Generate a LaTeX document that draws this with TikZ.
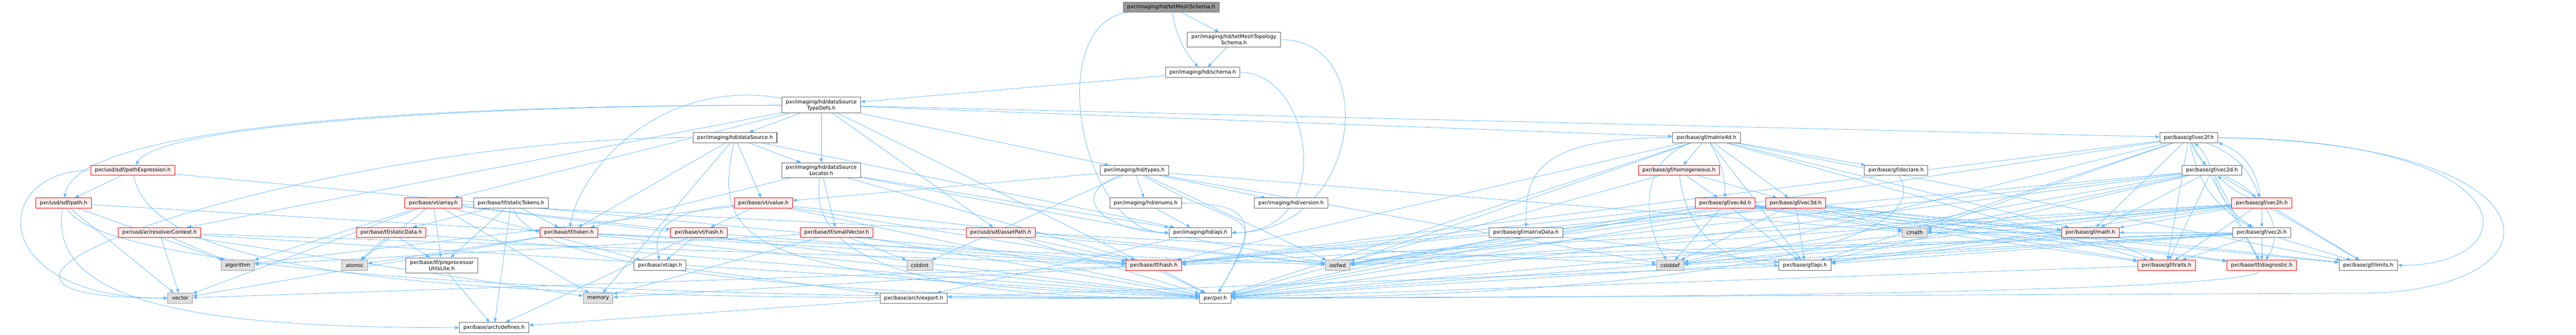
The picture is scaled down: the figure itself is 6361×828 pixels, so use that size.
\documentclass[tikz,border=0pt]{standalone}
\usepackage{fontspec}
\setmainfont{DejaVu Sans}
\usetikzlibrary{arrows.meta}
\definecolor{edgeblue}{HTML}{63B8FF}
\definecolor{boxline}{HTML}{666666}
\definecolor{sysline}{HTML}{999999}
\definecolor{sysfill}{HTML}{E0E0E0}
\definecolor{rootfill}{HTML}{999999}
\definecolor{redfill}{HTML}{FFF0F0}
\pgfdeclarelayer{bg}
\pgfsetlayers{bg,main}
\begin{document}
\begin{tikzpicture}[x=1pt,y=1pt]
\tikzstyle{hdr}=[draw=boxline, fill=white, line width=1.3pt, inner xsep=10pt, inner ysep=6pt, minimum height=25pt, align=center, font={\fontsize{12.8}{15}\selectfont}]
\tikzstyle{hdrred}=[hdr, draw=red, fill=redfill]
\tikzstyle{hdrsys}=[hdr, draw=sysline, fill=sysfill]
\tikzstyle{hdrroot}=[hdr, fill=rootfill]
\tikzstyle{dep}=[edgeblue, line width=1pt, -{Triangle[length=10pt,width=8pt]}]
\useasboundingbox (0,0) rectangle (6361,-828);
\draw (2892,-18) node [hdrroot] (tms) {pxr/imaging/hd/tetMeshSchema.h};
\draw (3047,-98) node [hdr] (tmts) {pxr/imaging/hd/tetMeshTopology\\Schema.h};
\draw (2970,-179) node [hdr] (schema) {pxr/imaging/hd/schema.h};
\draw (2028,-260) node [hdr] (dstd) {pxr/imaging/hd/dataSource\\TypeDefs.h};
\draw (1815,-340) node [hdr] (ds) {pxr/imaging/hd/dataSource.h};
\draw (4214,-340) node [hdr] (mat4d) {pxr/base/gf/matrix4d.h};
\draw (5405,-340) node [hdr] (vec2f) {pxr/base/gf/vec2f.h};
\draw (328,-421) node [hdrred] (pexpr) {pxr/usd/sdf/pathExpression.h};
\draw (2028,-421) node [hdr] (dsl) {pxr/imaging/hd/dataSource\\Locator.h};
\draw (2801,-421) node [hdr] (hdtypes) {pxr/imaging/hd/types.h};
\draw (4146,-421) node [hdrred] (homog) {pxr/base/gf/homogeneous.h};
\draw (4682,-421) node [hdr] (declare) {pxr/base/gf/declare.h};
\draw (5462,-421) node [hdr] (vec2d) {pxr/base/gf/vec2d.h};
\draw (157,-502) node [hdrred] (sdfpath) {pxr/usd/sdf/path.h};
\draw (1070,-502) node [hdrred] (array) {pxr/base/vt/array.h};
\draw (1262,-502) node [hdr] (stok) {pxr/base/tf/staticTokens.h};
\draw (1885,-502) node [hdrred] (value) {pxr/base/vt/value.h};
\draw (2829,-502) node [hdr] (enums) {pxr/imaging/hd/enums.h};
\draw (3188,-502) node [hdr] (version) {pxr/imaging/hd/version.h};
\draw (4260,-502) node [hdrred] (vec4d) {pxr/base/gf/vec4d.h};
\draw (4434,-502) node [hdrred] (vec3d) {pxr/base/gf/vec3d.h};
\draw (5585,-502) node [hdrred] (vec2h) {pxr/base/gf/vec2h.h};
\draw (394,-575) node [hdrred] (resctx) {pxr/usd/ar/resolverContext.h};
\draw (966,-575) node [hdrred] (sdata) {pxr/base/tf/staticData.h};
\draw (1405,-575) node [hdrred] (token) {pxr/base/tf/token.h};
\draw (1726,-575) node [hdrred] (vthash) {pxr/base/vt/hash.h};
\draw (2066,-575) node [hdrred] (svec) {pxr/base/tf/smallVector.h};
\draw (2471,-575) node [hdrred] (asset) {pxr/usd/sdf/assetPath.h};
\draw (2964,-575) node [hdr] (hdapi) {pxr/imaging/hd/api.h};
\draw (3768,-575) node [hdr] (mdata) {pxr/base/gf/matrixData.h};
\draw (4728,-575) node [hdrsys] (cmath) {cmath};
\draw (5162,-575) node [hdrred] (gfmath) {pxr/base/gf/math.h};
\draw (5585,-575) node [hdr] (vec2i) {pxr/base/gf/vec2i.h};
\draw (587,-656) node [hdrsys] (algorithm) {algorithm};
\draw (876,-656) node [hdrsys] (atomic) {atomic};
\draw (1091,-656) node [hdr] (prepr) {pxr/base/tf/preprocessor\\UtilsLite.h};
\draw (1630,-656) node [hdr] (vtapi) {pxr/base/vt/api.h};
\draw (2271,-656) node [hdrsys] (cstdint) {cstdint};
\draw (2849,-656) node [hdrred] (tfhash) {pxr/base/tf/hash.h};
\draw (3303,-656) node [hdrsys] (iosfwd) {iosfwd};
\draw (4124,-656) node [hdrsys] (cstddef) {cstddef};
\draw (4457,-656) node [hdr] (gfapi) {pxr/base/gf/api.h};
\draw (5350,-656) node [hdrred] (traits) {pxr/base/gf/traits.h};
\draw (5585,-656) node [hdrred] (diag) {pxr/base/tf/diagnostic.h};
\draw (5848,-656) node [hdr] (limits) {pxr/base/gf/limits.h};
\draw (445,-737) node [hdrsys] (vector) {vector};
\draw (1477,-737) node [hdrsys] (memory) {memory};
\draw (2256,-737) node [hdr] (export) {pxr/base/arch/export.h};
\draw (3001,-737) node [hdr] (pxr) {pxr/pxr.h};
\draw (1220,-810) node [hdr] (defines) {pxr/base/arch/defines.h};
\coordinate (rloop) at (5800,-725);
\begin{pgfonlayer}{bg}
\draw [dep] (tms) -- (tmts);
\draw [dep] (tms) to [bend right=15] (schema);
\draw [dep] (tms) .. controls (2575,-57) and (2666,-575) .. (hdapi);
\draw [dep] (tmts) -- (schema);
\draw [dep] (tmts) .. controls (3414,-98) and (3362,-575) .. (hdapi);
\draw [dep] (schema) -- (dstd);
\draw [dep] (schema) .. controls (3243,-179) and (3302,-575) .. (hdapi);
\draw [dep] (dstd) -- (ds);
\draw [dep] (dstd) -- (dsl);
\draw [dep] (dstd) .. controls (1230,-260) and (395,-304) .. (pexpr);
\draw [dep] (dstd) .. controls (1030,-260) and (190,-312) .. (sdfpath);
\draw [dep] (dstd) -- (resctx);
\draw [dep] (dstd) -- (array);
\draw [dep] (dstd) .. controls (1635,-191) and (1433,-414) .. (token);
\draw [dep] (dstd) -- (asset);
\draw [dep] (dstd) -- (hdtypes);
\draw [dep] (dstd) -- (mat4d);
\draw [dep] (dstd) -- (vec2f);
\draw [dep] (dstd) -- (pxr);
\draw [dep] (ds) -- (dsl);
\draw [dep] (ds) -- (value);
\draw [dep] (ds) -- (token);
\draw [dep] (ds) -- (hdapi);
\draw [dep] (ds) -- (memory);
\draw [dep] (ds) .. controls (811,-340) and (-386,-737) .. (vector);
\draw [dep] (ds) .. controls (1760,-600) and (1820,-690) .. (pxr);
\draw [dep] (dsl) -- (token);
\draw [dep] (dsl) -- (svec);
\draw [dep] (dsl) -- (hdapi);
\draw [dep] (dsl) -- (tfhash);
\draw [dep] (dsl) -- (iosfwd);
\draw [dep] (dsl) .. controls (1980,-697) and (2462,-737) .. (pxr);
\draw [dep] (pexpr) -- (sdfpath);
\draw [dep] (pexpr) .. controls (-27,-421) and (-36,-737) .. (vector);
\draw [dep] (pexpr) .. controls (386,-749) and (1562,-737) .. (pxr);
\draw [dep] (pexpr) -- (tfhash);
\draw [dep] (sdfpath) -- (algorithm);
\draw [dep] (sdfpath) -- (vector);
\draw [dep] (sdfpath) -- (token);
\draw [dep] (sdfpath) .. controls (112,-761) and (533,-810) .. (defines);
\draw [dep] (sdfpath) .. controls (254,-671) and (1362,-737) .. (pxr);
\draw [dep] (resctx) -- (algorithm);
\draw [dep] (resctx) -- (vector);
\draw [dep] (resctx) -- (memory);
\draw [dep] (resctx) -- (tfhash);
\draw [dep] (resctx) -- (pxr);
\draw [dep] (array) -- (atomic);
\draw [dep] (array) -- (prepr);
\draw [dep] (array) -- (vtapi);
\draw [dep] (array) -- (algorithm);
\draw [dep] (array) -- (memory);
\draw [dep] (array) -- (vector);
\draw [dep] (array) -- (vthash);
\draw [dep] (array) -- (cstddef);
\draw [dep] (array) -- (pxr);
\draw [dep] (stok) -- (sdata);
\draw [dep] (stok) -- (token);
\draw [dep] (stok) -- (prepr);
\draw [dep] (stok) -- (defines);
\draw [dep] (stok) .. controls (1342,-722) and (2562,-737) .. (pxr);
\draw [dep] (sdata) -- (atomic);
\draw [dep] (sdata) -- (prepr);
\draw [dep] (sdata) -- (pxr);
\draw [dep] (token) -- (atomic);
\draw [dep] (token) -- (vector);
\draw [dep] (token) -- (tfhash);
\draw [dep] (token) -- (iosfwd);
\draw [dep] (token) -- (pxr);
\draw [dep] (value) -- (vthash);
\draw [dep] (value) .. controls (1600,-525) and (1620,-600) .. (vtapi);
\draw [dep] (value) -- (algorithm);
\draw [dep] (value) -- (tfhash);
\draw [dep] (value) -- (iosfwd);
\draw [dep] (value) -- (pxr);
\draw [dep] (vthash) -- (vtapi);
\draw [dep] (vthash) -- (tfhash);
\draw [dep] (vthash) -- (defines);
\draw [dep] (svec) -- (cstdint);
\draw [dep] (svec) -- (memory);
\draw [dep] (svec) -- (algorithm);
\draw [dep] (svec) -- (pxr);
\draw [dep] (asset) -- (tfhash);
\draw [dep] (asset) -- (iosfwd);
\draw [dep] (asset) -- (pxr);
\draw [dep] (hdtypes) .. controls (2626,-485) and (2736,-575) .. (hdapi);
\draw [dep] (hdtypes) -- (enums);
\draw [dep] (hdtypes) -- (version);
\draw [dep] (hdtypes) .. controls (3076,-584) and (3138,-499) .. (pxr);
\draw [dep] (hdtypes) -- (value);
\draw [dep] (hdtypes) -- (cstdint);
\draw [dep] (hdtypes) -- (cmath);
\draw [dep] (hdtypes) -- (cstddef);
\draw [dep] (hdtypes) -- (iosfwd);
\draw [dep] (enums) -- (hdapi);
\draw [dep] (enums) .. controls (3119,-502) and (3098,-568) .. (pxr);
\draw [dep] (hdapi) -- (export);
\draw [dep] (vtapi) -- (export);
\draw [dep] (gfapi) -- (export);
\draw [dep] (export) -- (defines);
\draw [dep] (prepr) -- (defines);
\draw [dep] (tfhash) -- (pxr);
\draw [dep] (tfhash) -- (memory);
\draw [dep] (tfhash) -- (vector);
\draw [dep] (mdata) -- (gfapi);
\draw [dep] (mdata) -- (pxr);
\draw [dep] (mat4d) -- (homog);
\draw [dep] (mat4d) to [bend left=15] (vec4d);
\draw [dep] (mat4d) -- (vec3d);
\draw [dep] (mat4d) .. controls (3779,-340) and (3768,-442) .. (mdata);
\draw [dep] (mat4d) -- (declare);
\draw [dep] (mat4d) -- (gfapi);
\draw [dep] (mat4d) -- (limits);
\draw [dep] (mat4d) -- (gfmath);
\draw [dep] (mat4d) -- (traits);
\draw [dep] (mat4d) -- (tfhash);
\draw [dep] (mat4d) -- (iosfwd);
\draw [dep] (mat4d) .. controls (4040,-400) and (4060,-560) .. (cstddef);
\draw [dep] (mat4d) -- (pxr);
\draw [dep] (homog) -- (vec4d);
\draw [dep] (homog) -- (vec3d);
\draw [dep] (homog) .. controls (4163,-583) and (4272,-656) .. (gfapi);
\draw [dep] (homog) -- (pxr);
\draw [dep] (vec4d) -- (cstddef);
\draw [dep] (vec4d) -- (gfapi);
\draw [dep] (vec4d) -- (cmath);
\draw [dep] (vec4d) -- (gfmath);
\draw [dep] (vec4d) -- (traits);
\draw [dep] (vec4d) -- (diag);
\draw [dep] (vec4d) -- (limits);
\draw [dep] (vec4d) -- (tfhash);
\draw [dep] (vec4d) -- (iosfwd);
\draw [dep] (vec4d) -- (pxr);
\draw [dep] (vec3d) -- (cstddef);
\draw [dep] (vec3d) -- (gfapi);
\draw [dep] (vec3d) -- (cmath);
\draw [dep] (vec3d) -- (gfmath);
\draw [dep] (vec3d) -- (traits);
\draw [dep] (vec3d) -- (diag);
\draw [dep] (vec3d) -- (limits);
\draw [dep] (vec3d) -- (tfhash);
\draw [dep] (vec3d) -- (iosfwd);
\draw [dep] (vec3d) -- (pxr);
\draw [dep] (vec2f) to [bend right=12] (vec2d);
\draw [dep] (vec2f) to [bend left=25] (vec2h);
\draw [dep] (vec2f) to [bend right=25] (vec2i);
\draw [dep] (vec2f) -- (gfapi);
\draw [dep] (vec2f) -- (cstddef);
\draw [dep] (vec2f) -- (cmath);
\draw [dep] (vec2f) -- (gfmath);
\draw [dep] (vec2f) -- (traits);
\draw [dep] (vec2f) -- (diag);
\draw [dep] (vec2f) .. controls (6250,-345) and (6250,-656) .. (limits);
\draw [dep] (vec2f) -- (tfhash);
\draw [dep] (vec2f) -- (iosfwd);
\draw [dep] (vec2f) .. controls (6355,-350) and (6355,-735) .. (rloop) -- (pxr);
\draw [dep] (vec2d) to [bend right=12] (vec2f);
\draw [dep] (vec2d) to [bend left=10] (vec2h);
\draw [dep] (vec2d) to [bend right=20] (vec2i);
\draw [dep] (vec2d) -- (gfapi);
\draw [dep] (vec2d) -- (cstddef);
\draw [dep] (vec2d) -- (cmath);
\draw [dep] (vec2d) -- (gfmath);
\draw [dep] (vec2d) -- (traits);
\draw [dep] (vec2d) -- (diag);
\draw [dep] (vec2d) -- (limits);
\draw [dep] (vec2d) -- (tfhash);
\draw [dep] (vec2d) -- (iosfwd);
\draw [dep] (vec2d) -- (pxr);
\draw [dep] (vec2h) to [bend left=10] (vec2d);
\draw [dep] (vec2h) to [bend right=32] (vec2f);
\draw [dep] (vec2h) -- (vec2i);
\draw [dep] (vec2h) -- (gfapi);
\draw [dep] (vec2h) -- (cstddef);
\draw [dep] (vec2h) -- (cmath);
\draw [dep] (vec2h) -- (gfmath);
\draw [dep] (vec2h) -- (traits);
\draw [dep] (vec2h) to [bend left=35] (diag);
\draw [dep] (vec2h) -- (limits);
\draw [dep] (vec2h) -- (tfhash);
\draw [dep] (vec2h) -- (iosfwd);
\draw [dep] (vec2h) -- (pxr);
\draw [dep] (vec2i) -- (limits);
\draw [dep] (vec2i) -- (diag);
\draw [dep] (vec2i) -- (gfapi);
\draw [dep] (vec2i) -- (gfmath);
\draw [dep] (vec2i) -- (traits);
\draw [dep] (vec2i) -- (tfhash);
\draw [dep] (vec2i) -- (cstddef);
\draw [dep] (vec2i) -- (cmath);
\draw [dep] (vec2i) -- (iosfwd);
\draw [dep] (vec2i) -- (pxr);
\draw [dep] (gfmath) -- (traits);
\draw [dep] (gfmath) -- (gfapi);
\draw [dep] (gfmath) -- (pxr);
\draw [dep] (declare) .. controls (4815,-650) and (3841,-737) .. (pxr);
\draw [dep] (traits) -- (pxr);
\draw [dep] (diag) .. controls (5560,-725) and (3941,-737) .. (pxr);
\end{pgfonlayer}
\end{tikzpicture}
\end{document}
